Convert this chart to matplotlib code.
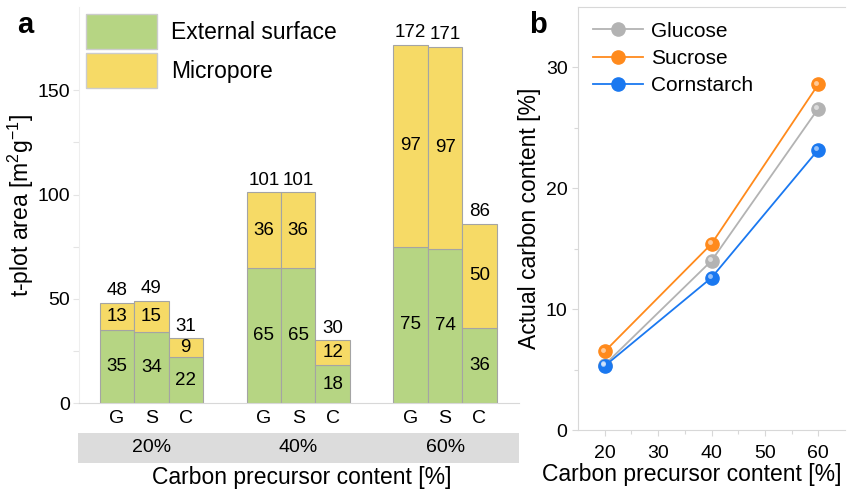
import numpy as np
import matplotlib
matplotlib.use("Agg")
import matplotlib.pyplot as plt
from matplotlib.patches import Patch, Rectangle
from matplotlib.lines import Line2D
from matplotlib import transforms

plt.rcParams["font.family"] = ["Liberation Sans", "DejaVu Sans"]
plt.rcParams["mathtext.fontset"] = "custom"
plt.rcParams["mathtext.rm"] = "Liberation Sans"
plt.rcParams["mathtext.it"] = "Liberation Sans"
plt.rcParams["mathtext.default"] = "regular"

# panel a data
groups = ["20%", "40%", "60%"]
precursors = ["G", "S", "C"]
external = [35, 34, 22, 65, 65, 18, 75, 74, 36]
micropore = [13, 15, 9, 36, 36, 12, 97, 97, 50]
totals = [48, 49, 31, 101, 101, 30, 172, 171, 86]

# panel b data
content = [20, 40, 60]
glucose = [5.4, 14.0, 26.6]
sucrose = [6.5, 15.4, 28.6]
cornstarch = [5.3, 12.6, 23.2]

green = "#b6d583"
yellow = "#f6da66"
edge = "#a4a4a4"
spine_c = "#d8d8d8"

W, H = 847, 490
fig = plt.figure(figsize=(W / 100, H / 100), dpi=100)

# ---------------- panel a ----------------
ax = fig.add_axes([79 / W, 1 - 403 / H, 440 / W, 396 / H])
gap = 4.27
xs = np.array([g * gap + i for g in range(3) for i in range(3)], dtype=float)
ax.bar(xs, external, width=1.0, color=green, edgecolor=edge, linewidth=0.8)
ax.bar(xs, micropore, width=1.0, bottom=external, color=yellow, edgecolor=edge, linewidth=0.8)

for x, e, m, t in zip(xs, external, micropore, totals):
    ax.text(x, e / 2, str(e), ha="center", va="center", fontsize=13.5)
    ax.text(x, e + m / 2, str(m), ha="center", va="center", fontsize=13.5)
    ax.annotate(str(t), (x, t), xytext=(0, 2.5), textcoords="offset points",
                ha="center", va="bottom", fontsize=13.5)

ax.set_xlim(-1.105, 11.69)
ax.set_ylim(0, 190)
ax.set_yticks([0, 50, 100, 150])
ax.set_yticks([25, 75, 125], minor=True)
ax.set_xticks(xs)
ax.set_xticklabels(precursors * 3, fontsize=14)
ax.tick_params(axis="x", length=0, pad=5)
ax.tick_params(axis="y", which="both", colors="#e4e4e4", labelcolor="black",
               labelsize=14, length=4.5, width=0.8, pad=2)
for s in ["top", "right"]:
    ax.spines[s].set_visible(False)
ax.spines["left"].set_color("#eeeeee")
ax.spines["bottom"].set_color(spine_c)
ax.set_ylabel("t-plot area [m$^{2}$g$^{-1}$]", fontsize=16.5)
ax.yaxis.set_label_coords((36 - 79) / 440, 0.5)

# grey group band
ax.add_patch(Rectangle((-0.002, -0.1515), 1.002, 0.0757, transform=ax.transAxes,
                       facecolor="#dcdcdc", edgecolor="none", clip_on=False))
for g, lab in enumerate(groups):
    ax.text(g * gap + 1, -0.1136, lab, transform=ax.get_xaxis_transform(),
            ha="center", va="center", fontsize=14)
ax.text(0.506, -0.189, "Carbon precursor content [%]", transform=ax.transAxes,
        ha="center", va="center", fontsize=16.5)

handles = [Patch(facecolor=green, edgecolor="#cccccc", label="External surface"),
           Patch(facecolor=yellow, edgecolor="#cccccc", label="Micropore")]
ax.legend(handles=handles, loc="upper left", bbox_to_anchor=(0.0, 1.0),
          frameon=False, fontsize=16.5, handlelength=3.1, handleheight=1.95,
          labelspacing=0.2, handletextpad=0.6, borderaxespad=0.0, borderpad=0.3)

fig.text(25 / W, 1 - 33 / H, "a", fontsize=21, fontweight="bold", ha="center", va="baseline")

# ---------------- panel b ----------------
bx = fig.add_axes([578 / W, 1 - 430 / H, 267 / W, 423 / H])
series = [("Glucose", glucose, "#b3b3b3"),
          ("Sucrose", sucrose, "#ff8a1c"),
          ("Cornstarch", cornstarch, "#1a78f0")]
hl = transforms.offset_copy(bx.transData, fig=fig, x=-1.3, y=1.3, units="points")
leg = []
for name, ys, c in series:
    bx.plot(content, ys, color=c, lw=1.3, marker="o", ms=9.5, mfc=c, mec=c, zorder=3)
    bx.plot(content, ys, ls="none", marker="o", ms=3.5, mfc="white", mec="none",
            alpha=0.55, transform=hl, zorder=4)
    leg.append(Line2D([0], [0], color=c, lw=1.3, marker="o", ms=9.5, mfc=c, mec=c, label=name))

bx.set_xlim(15, 65)
bx.set_ylim(0, 35)
bx.set_xticks([20, 30, 40, 50, 60])
bx.set_xticks([25, 35, 45, 55], minor=True)
bx.set_yticks([0, 10, 20, 30])
bx.set_yticks([5, 15, 25], minor=True)
bx.tick_params(which="both", colors=spine_c, labelcolor="black", labelsize=14,
               length=4.5, width=0.8)
bx.tick_params(axis="x", pad=6)
bx.tick_params(axis="y", pad=3)
bx.tick_params(which="minor", length=3)
bx.spines["right"].set_visible(False)
for s in ["top", "left", "bottom"]:
    bx.spines[s].set_color(spine_c)
bx.set_ylabel("Actual carbon content [%]", fontsize=16.5)
bx.yaxis.set_label_coords((541 - 578) / 267, 0.5)
bx.text((692 - 578) / 267, (430 - 474) / 423, "Carbon precursor content [%]",
        transform=bx.transAxes, ha="center", va="center", fontsize=16.5)
bx.legend(handles=leg, loc="upper left", frameon=False, fontsize=15,
          handlelength=2.4, labelspacing=0.4, handletextpad=0.4,
          borderaxespad=0.3)

fig.text(538 / W, 1 - 33 / H, "b", fontsize=21, fontweight="bold", ha="center", va="baseline")

fig.savefig("out.png", dpi=100)
